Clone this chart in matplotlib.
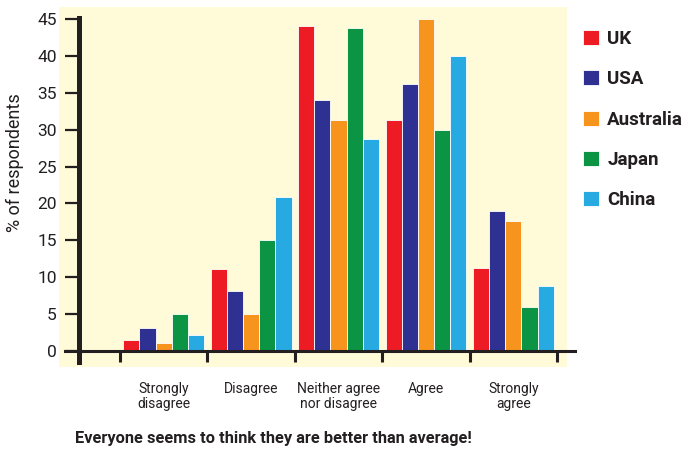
import matplotlib
matplotlib.use("Agg")
import matplotlib.pyplot as plt
import numpy as np

plt.rcParams['font.family'] = ['Roboto', 'DejaVu Sans']

# Survey answers (% of respondents) per country
categories = ["Strongly\ndisagree", "Disagree", "Neither agree\nnor disagree", "Agree", "Strongly\nagree"]
countries = ["UK", "USA", "Australia", "Japan", "China"]
uk = [1.5, 11.1, 44.0, 31.3, 11.2]
usa = [3.1, 8.1, 34.0, 36.2, 19.0]
australia = [1.1, 5.0, 31.3, 45.0, 17.6]
japan = [5.0, 15.0, 43.8, 30.0, 6.0]
china = [2.2, 20.9, 28.8, 40.0, 8.8]
yticks = [0, 5, 10, 15, 20, 25, 30, 35, 40, 45]
caption = "Everyone seems to think they are better than average!"

series = [uk, usa, australia, japan, china]
colors = ["#ed1c24", "#2e3192", "#f7941d", "#0b9444", "#27aae1"]
ink = "#231f20"

fig = plt.figure(figsize=(6.86, 4.51), dpi=100)
ax = fig.add_axes([59 / 686, 84 / 451, 508 / 686, 360 / 451])
ax.set_facecolor("#fffad7")
ax.set_xlim(-1.198, 4.614)
ax.set_ylim(-2.17, 46.63)

x = np.arange(len(categories))
w = 0.185
handles = []
for i, (vals, c) in enumerate(zip(series, colors)):
    b = ax.bar(x + (i - 2) * w, vals, w, color=c, edgecolor="white",
               linewidth=0.6, zorder=2)
    handles.append(b)

# axes lines
for s in ("top", "right"):
    ax.spines[s].set_visible(False)
ax.spines["left"].set_position(("data", -0.969))
ax.spines["left"].set_bounds(-1.5, 45.2)
ax.spines["left"].set_linewidth(3.6)
ax.spines["left"].set_color(ink)
ax.spines["bottom"].set_position(("data", 0))
ax.spines["bottom"].set_bounds(-1.13, 4.71)
ax.spines["bottom"].set_linewidth(2.2)
ax.spines["bottom"].set_color(ink)
ax.spines["left"].set_zorder(3)
ax.spines["bottom"].set_zorder(3)

ax.set_yticks(yticks)
ax.tick_params(axis="y", length=10, width=1.6, color=ink, pad=6,
               labelsize=12.5, labelcolor=ink)

ax.set_xticks(np.arange(-0.5, 5, 1.0))
ax.set_xticklabels([])
ax.tick_params(axis="x", which="major", length=8, width=2.2, color=ink)
ax.set_xticks(x, minor=True)
ax.set_xticklabels(categories, minor=True)
ax.tick_params(axis="x", which="minor", length=0, pad=22, labelsize=10,
               labelcolor=ink)
for t in ax.get_xticklabels(minor=True):
    t.set_linespacing(1.1)

fig.legend(handles, countries, loc="upper left",
           bbox_to_anchor=(583 / 686, 1 - 30 / 451), frameon=False,
           prop={"weight": "bold", "size": 13.5},
           handlelength=0.85, handleheight=0.85, labelspacing=1.19,
           handletextpad=0.45, borderaxespad=0, borderpad=0,
           labelcolor=ink)

fig.text(15 / 686, 1 - 163 / 451, "% of respondents", rotation=90,
         va="center", ha="center", fontsize=13, color=ink)
fig.text(75 / 686, 1 - 443 / 451, caption, fontweight="bold", fontsize=11.75,
         va="baseline", ha="left", color=ink)

fig.savefig("out.png", dpi=100)
